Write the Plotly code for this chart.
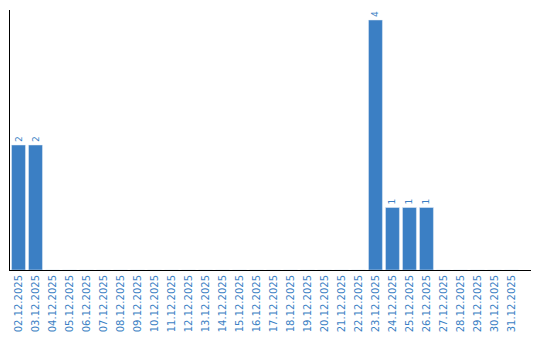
import plotly.graph_objects as go

dates = [f"{d:02d}.12.2025" for d in range(2, 32)]
counts = [2, 2, 0, 0, 0, 0, 0, 0, 0, 0, 0, 0, 0, 0, 0, 0, 0, 0, 0, 0, 0, 4, 1, 1, 1, 0, 0, 0, 0, 0]
labels = [str(c) if c > 0 else "" for c in counts]

blue = "#3b7fc4"

fig = go.Figure(go.Bar(
    x=dates, y=counts, marker_color=blue, text=labels,
    textposition="outside", textangle=-90,
    textfont=dict(family="DejaVu Sans", size=9, color=blue),
    cliponaxis=False,
))
fig.update_layout(
    width=540, height=340,
    margin=dict(l=10, r=9, t=10, b=70),
    plot_bgcolor="white", paper_bgcolor="white",
    bargap=0.18, showlegend=False,
)
fig.update_xaxes(
    type="category", range=[-0.5, 30.15], tickangle=-90, showline=True,
    linecolor="black", linewidth=1, automargin=False,
    ticks="", tickfont=dict(family="DejaVu Sans", size=10, color=blue),
    showgrid=False,
)
fig.update_yaxes(
    range=[0, 4.16], showline=True, linecolor="black", linewidth=1,
    showticklabels=False, ticks="", showgrid=False, zeroline=False,
)
fig.write_html("out.html")
